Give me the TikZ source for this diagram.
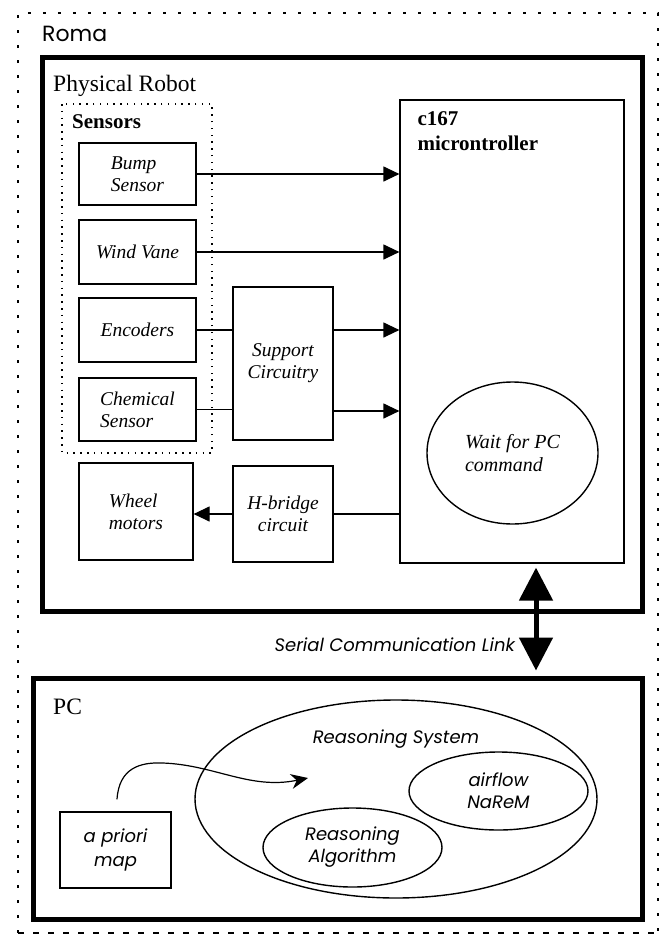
\documentclass[tikz,border=0pt]{standalone}
\usepackage{fontspec}
\setmainfont{Liberation Serif}
\newfontfamily\gothic{Poppins}
\usetikzlibrary{arrows.meta}
\usetikzlibrary{shapes.geometric}
\usetikzlibrary{positioning}

\begin{document}
\begin{tikzpicture}
	[
	x=1pt, y=-1pt,
  > = {Triangle[length=16pt,width=15pt]},
  box/.style = {draw, line width=1.2pt, inner sep=0pt, align=left, font=\fontsize{19.5}{22}\selectfont\itshape},
  sansbox/.style = {box, font=\gothic\itshape\fontsize{18}{24}\selectfont},
  oval/.style = {draw, ellipse, line width=1.4pt, inner sep=0pt, align=center, font=\gothic\itshape\fontsize{18}{22}\selectfont},
  frame/.style = {draw, line width=5pt, inner sep=0pt},
  title/.style = {anchor=base west, inner sep=0pt, font=\fontsize{23.5}{26}\selectfont},
  wire/.style = {line width=1.2pt},
  link/.style = {line width=5pt, {Triangle[length=33pt,width=33pt]}-{Triangle[length=33pt,width=33pt]}}
  ]
	\useasboundingbox (0,0) rectangle (660,940);

	% Roma border
	\draw[line width=2.8pt, dash pattern=on 2.8pt off 12.2pt] (18,933) -- (18,13) -- (658,13) -- (658,933);
	\draw[line width=2.8pt, dash pattern=on 6pt off 9pt] (18,933) -- (658,933);
	\node[anchor=base west, inner sep=0pt, font=\gothic\fontsize{22}{24}\selectfont] (roma) at (42,41) {Roma};

	% physical robot
	\node[frame, minimum width=600pt, minimum height=554pt] (robot) at (342,334) {};
	\node[title] (robotlabel) at (53,91) {Physical Robot};

	\draw[line width=1.5pt, dash pattern=on 1.5pt off 5.3pt] (62,104) rectangle (212,453);
	\node[anchor=base west, inner sep=0pt, font=\fontsize{21}{24}\selectfont\bfseries] (sensors) at (72,128) {Sensors};

	\node[box, minimum width=117pt, minimum height=62pt] (bump)  at (137.5,174) {Bump\\Sensor};
	\node[box, minimum width=117pt, minimum height=64pt] (wind)  at (137.5,252) {Wind Vane};
	\node[box, minimum width=117pt, minimum height=64pt] (enc)   at (137.5,330) {Encoders};
	\node[box, minimum width=117pt, minimum height=63pt] (chem)  at (137.5,409.5) {Chemical\\Sensor};
	\node[box, minimum width=114pt, minimum height=97pt] (wheel) at (136,511.5) {Wheel\\motors};
	\node[box, align=center, minimum width=100pt, minimum height=153pt] (supp) at (283,363.5) {Support\\Circuitry};
	\node[box, align=center, minimum width=100pt, minimum height=96pt] (hbr) at (283,514) {H-bridge\\circuit};

	\node[box, minimum width=224pt, minimum height=463pt] (micro) at (512,331.5) {};
	\node[anchor=north west, inner sep=0pt, align=left, font=\fontsize{21}{25}\selectfont\bfseries] (microlabel)
		at ([xshift=18pt,yshift=-12pt]micro.north west) {c167\\microntroller};
	\node[box, ellipse, line width=1.4pt, font=\fontsize{20}{23}\selectfont\itshape, minimum width=171pt, minimum height=142pt] (wait) at (512.5,453) {Wait for PC\\command};

	\draw[wire,->] (bump.east) -- (bump.east -| micro.west);
	\draw[wire,->] (wind.east) -- (wind.east -| micro.west);
	\draw[wire] (enc.east) -- (enc.east -| supp.west);
	\draw[wire,->] (enc.east -| supp.east) -- (enc.east -| micro.west);
	\draw[wire] (chem.east) -- (chem.east -| supp.west);
	\draw[wire,->] ([yshift=-1.5pt]chem.east -| supp.east) -- ([yshift=-1.5pt]chem.east -| micro.west);
	\draw[wire] (hbr.east -| micro.west) -- (hbr.east);
	\draw[wire,->] (hbr.west) -- (hbr.west -| wheel.east);

	% PC
	\node[frame, minimum width=609pt, minimum height=241pt] (pc) at (337.5,798.5) {};
	\node[title] (pclabel) at (53,714) {PC};

	\coordinate (linktop) at ([xshift=24pt,yshift=-4pt]micro.south);
	\coordinate (linkbot) at ([yshift=5pt]linktop |- pc.north);
	\draw[link] (linktop) -- (linkbot);
	\node[anchor=base east, inner sep=0pt, font=\gothic\itshape\fontsize{18}{20}\selectfont] (linklabel) at (515,651) {Serial Communication Link};

	\node[sansbox, align=center, minimum width=111pt, minimum height=76pt] (map) at (115.5,850) {a priori\\map};
	\node[oval, minimum width=402pt, minimum height=198pt] (reasys) at (396,799) {};
	\node[anchor=base, inner sep=0pt, font=\gothic\itshape\fontsize{18}{20}\selectfont] (reasyslabel) at (396,743) {Reasoning System};
	\node[oval, minimum width=179pt, minimum height=79pt] (alg) at (352.5,847.5) {Reasoning\\Algorithm};
	\node[oval, minimum width=179pt, minimum height=78pt] (nar) at (498.5,791) {airflow\\NaReM};

	\coordinate (mapout) at ([xshift=1.5pt,yshift=12pt]map.north);
	\coordinate (sysin) at ([xshift=-88pt,yshift=21pt]reasys.center);
	\draw[wire, -{Stealth[length=17pt,width=15pt]}] (mapout) .. controls (119,768) and (140,762) .. (163,763)
		.. controls (215,765) and (250,790) .. (sysin);

\end{tikzpicture}
\end{document}
